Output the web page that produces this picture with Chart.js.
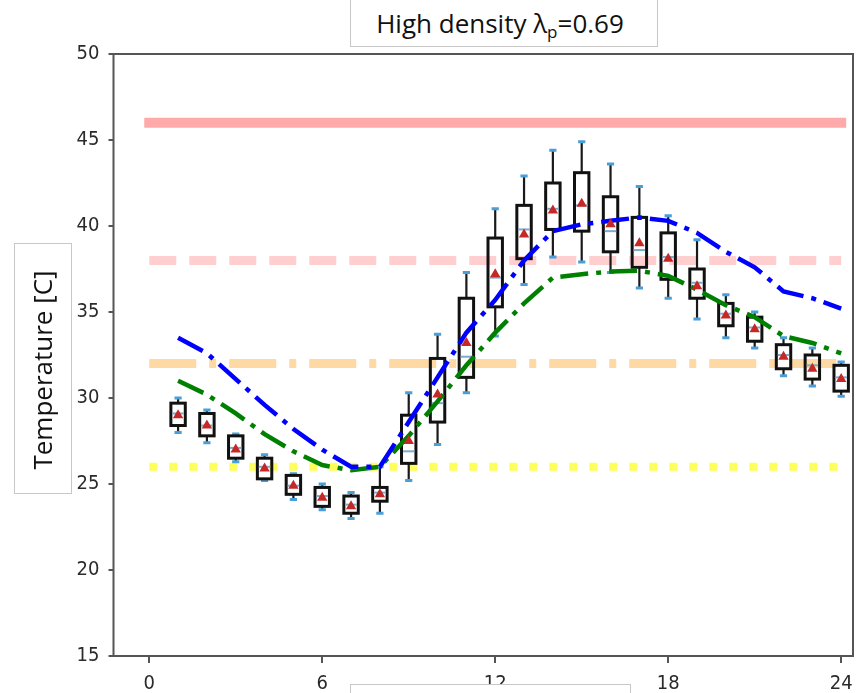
<!DOCTYPE html>
<html>
<head>
<meta charset="utf-8">
<script src="https://cdn.jsdelivr.net/npm/chart.js@4.4.1/dist/chart.umd.min.js"></script>
<style>
  body { margin: 0; background: #fff; }
  #wrap { position: relative; width: 859px; height: 693px; overflow: hidden; }
  .tb { position: absolute; background: #fff; border: 1px solid #c8c8c8; box-sizing: border-box; }
  .txt { font-family: "Open Sans", sans-serif; font-size: 26px; color: #111; white-space: nowrap; }
  #title { left: 350px; top: -2px; width: 308px; height: 49px; text-align: center; }
  #title .txt { padding-top: 6px; padding-right: 8px; line-height: normal; }
  #title sub { font-size: 17px; vertical-align: -5px; line-height: 0; }
  #ylabBox { left: 14px; top: 243px; width: 58px; height: 251px; }
  #ylab { position: absolute; left: -108px; top: 352px; width: 300px; height: 36px; line-height: 36px;
          text-align: center; transform: rotate(-90deg); }
  #bottomBox { left: 350px; top: 684px; width: 281px; height: 30px; }
</style>
</head>
<body>
<div id="wrap">
  <canvas id="chart" width="859" height="693"></canvas>
  <div class="tb" id="title"><div class="txt">High density &lambda;<sub>p</sub>=0.69</div></div>
  <div class="tb" id="ylabBox"></div>
  <div class="txt" id="ylab">Temperature [C]</div>
  <div class="tb" id="bottomBox"></div>
</div>
<script>
// hourly box plots
const hours = [1, 2, 3, 4, 5, 6, 7, 8, 9, 10, 11, 12, 13, 14, 15, 16, 17, 18, 19, 20, 21, 22, 23, 24];
const whiskerLow = [28.0, 27.4, 26.3, 25.2, 24.1, 23.5, 23.0, 23.3, 25.2, 27.3, 30.3, 33.6,
  36.6, 38.2, 37.9, 37.3, 36.4, 35.8, 34.6, 33.5, 32.9, 31.3, 30.7, 30.1];
const q1 = [28.4, 27.8, 26.5, 25.3, 24.4, 23.7, 23.3, 24.0, 26.2, 28.6, 31.2, 35.3,
  38.1, 39.8, 39.7, 38.5, 37.6, 36.9, 35.8, 34.2, 33.3, 31.7, 31.1, 30.4];
const medians = [29.1, 28.4, 27.1, 26.0, 24.9, 24.3, 23.8, 24.5, 26.9, 29.7, 32.4, 37.0,
  39.8, 41.0, 41.2, 39.7, 38.6, 38.2, 36.7, 34.9, 34.1, 32.5, 31.9, 31.2];
const q3 = [29.7, 29.1, 27.8, 26.5, 25.5, 24.8, 24.3, 24.8, 29.0, 32.3, 35.8, 39.3,
  41.2, 42.5, 43.1, 41.7, 40.5, 39.6, 37.5, 35.5, 34.7, 33.1, 32.5, 31.9];
const whiskerHigh = [30.0, 29.3, 27.9, 26.7, 25.6, 25.0, 24.5, 26.0, 30.3, 33.7, 37.3, 41.0,
  42.9, 44.4, 44.9, 43.6, 42.3, 40.6, 39.2, 36.0, 35.0, 33.5, 32.9, 32.1];
const means = [29.0, 28.4, 27.0, 25.9, 24.9, 24.2, 23.7, 24.4, 27.5, 30.2, 33.2, 37.2,
  39.5, 40.9, 41.3, 40.1, 39.0, 38.1, 36.5, 34.8, 34.0, 32.4, 31.7, 31.1];

// model curves
const blueLine = [33.5, 32.6, 31.1, 29.6, 28.2, 27.0, 26.0, 26.0, 28.6, 31.2, 33.8, 35.7,
  38.0, 39.7, 40.1, 40.3, 40.5, 40.3, 39.6, 38.5, 37.6, 36.2, 35.8, 35.2];
const greenLine = [31.0, 30.2, 29.1, 27.9, 26.9, 26.1, 25.8, 26.0, 27.8, 29.8, 31.9, 33.8,
  35.5, 37.0, 37.2, 37.35, 37.4, 37.1, 36.3, 35.4, 34.7, 33.6, 33.2, 32.6];

// threshold lines
const refLevels = [46, 38, 32, 26];

const xTicks = [0, 6, 12, 18, 24];
const yTicks = [15, 20, 25, 30, 35, 40, 45, 50];

const pts = (ys) => hours.map((h, i) => ({ x: h, y: ys[i] }));
const hline = (v) => [{ x: xTicks[0], y: v }, { x: xTicks[xTicks.length - 1], y: v }];

const boxWidth = 0.5;
const boxPlugin = {
  id: "boxes",
  beforeDatasetDraw(chart, args) {
    if (chart.data.datasets[args.index].label !== "green") return;
    const ctx = chart.ctx;
    const x = chart.scales.x, y = chart.scales.y;
    ctx.save();
    hours.forEach((h, i) => {
      const cx = x.getPixelForValue(h);
      const half = (x.getPixelForValue(h + boxWidth / 2) - x.getPixelForValue(h - boxWidth / 2)) / 2;
      const capHalf = half * 0.5;
      const yLo = y.getPixelForValue(whiskerLow[i]);
      const yQ1 = y.getPixelForValue(q1[i]);
      const yMed = y.getPixelForValue(medians[i]);
      const yQ3 = y.getPixelForValue(q3[i]);
      const yHi = y.getPixelForValue(whiskerHigh[i]);

      ctx.strokeStyle = "#1a1a1a";
      ctx.lineWidth = 2.2;
      ctx.beginPath();
      ctx.moveTo(cx, yLo); ctx.lineTo(cx, yQ1);
      ctx.moveTo(cx, yQ3); ctx.lineTo(cx, yHi);
      ctx.stroke();

      ctx.strokeStyle = "#4a9fd8";
      ctx.lineWidth = 3;
      ctx.beginPath();
      ctx.moveTo(cx - capHalf, yLo); ctx.lineTo(cx + capHalf, yLo);
      ctx.moveTo(cx - capHalf, yHi); ctx.lineTo(cx + capHalf, yHi);
      ctx.stroke();

      ctx.strokeStyle = "#111";
      ctx.lineWidth = 3;
      ctx.strokeRect(cx - half, yQ3, half * 2, yQ1 - yQ3);

      ctx.strokeStyle = "#7fa9c9";
      ctx.lineWidth = 2;
      ctx.beginPath();
      ctx.moveTo(cx - half + 1.5, yMed); ctx.lineTo(cx + half - 1.5, yMed);
      ctx.stroke();
    });
    ctx.restore();
  },
  afterDraw(chart) {
    const { ctx, chartArea: a } = chart;
    ctx.save();
    ctx.strokeStyle = "#555";
    ctx.lineWidth = 2;
    ctx.strokeRect(a.left, a.top, a.right - a.left, a.bottom - a.top);
    ctx.restore();
  }
};

const tickFont = { family: "DejaVu Sans Condensed", size: 20 };

new Chart(document.getElementById("chart"), {
  type: "scatter",
  data: {
    datasets: [
      {
        label: "mean",
        data: pts(means),
        pointStyle: "triangle",
        pointRadius: 6,
        backgroundColor: "#c62828",
        borderColor: "#c62828",
        borderWidth: 0,
      },
      {
        label: "blue",
        data: pts(blueLine),
        showLine: true,
        borderColor: "#0000ff",
        borderWidth: 4.5,
        borderDash: [28, 8, 5, 8],
        pointRadius: 0,
      },
      {
        label: "green",
        data: pts(greenLine),
        showLine: true,
        borderColor: "#008000",
        borderWidth: 4.5,
        borderDash: [28, 8, 5, 8],
        pointRadius: 0,
      },
      {
        label: "ref46",
        data: hline(refLevels[0]),
        showLine: true,
        borderColor: "#ffaaaa",
        borderWidth: 10,
        borderCapStyle: "square",
        pointRadius: 0,
      },
      {
        label: "ref38",
        data: hline(refLevels[1]),
        showLine: true,
        borderColor: "#ffcfcf",
        borderWidth: 9,
        borderDash: [27, 13],
        pointRadius: 0,
      },
      {
        label: "ref32",
        data: hline(refLevels[2]),
        showLine: true,
        borderColor: "#ffd9a3",
        borderWidth: 9,
        borderDash: [47, 13, 7, 13],
        pointRadius: 0,
      },
      {
        label: "ref26",
        data: hline(refLevels[3]),
        showLine: true,
        borderColor: "#ffff5a",
        borderWidth: 8,
        borderDash: [8, 12],
        pointRadius: 0,
      },
    ],
  },
  options: {
    responsive: false,
    animation: false,
    layout: { padding: { top: 54, right: 1.5, left: 0, bottom: 0 } },
    plugins: { legend: { display: false }, tooltip: { enabled: false } },
    scales: {
      x: {
        type: "linear",
        min: -1.24,
        max: 24.41,
        afterBuildTicks: (s) => { s.ticks = xTicks.map((v) => ({ value: v })); },
        afterFit: (s) => { s.height = 37; s.paddingLeft = 0; s.paddingRight = 0; },
        border: { display: false },
        grid: { drawOnChartArea: false, color: "#555", lineWidth: 2, tickLength: 7 },
        ticks: { font: tickFont, color: "#2a2a2a", padding: 9, maxRotation: 0 },
      },
      y: {
        min: 15,
        max: 50,
        afterBuildTicks: (s) => { s.ticks = yTicks.map((v) => ({ value: v })); },
        afterFit: (s) => { s.width = 113.5; s.paddingTop = 0; s.paddingBottom = 0; },
        border: { display: false },
        grid: { drawOnChartArea: false, color: "#555", lineWidth: 2, tickLength: 5 },
        ticks: { font: tickFont, color: "#2a2a2a", padding: 9 },
      },
    },
  },
  plugins: [boxPlugin],
});
</script>
</body>
</html>
